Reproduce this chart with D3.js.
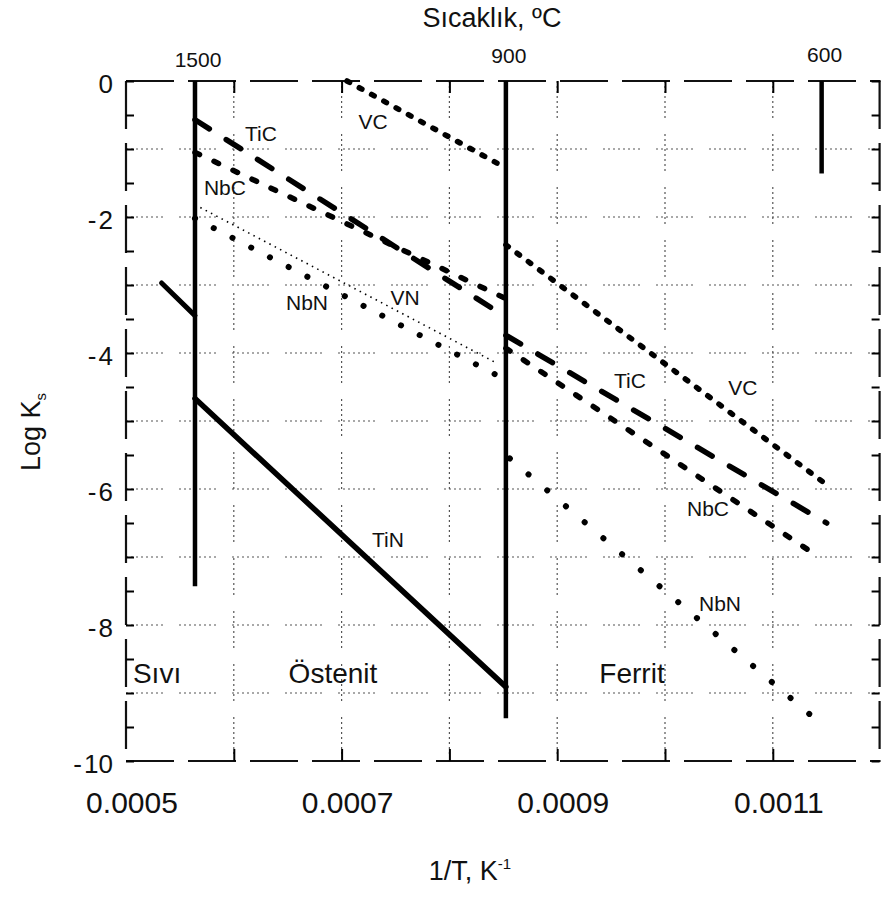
<!DOCTYPE html>
<html>
<head>
<meta charset="utf-8">
<script src="https://cdn.jsdelivr.net/npm/d3@7"></script>
<style>
  html, body { margin: 0; padding: 0; background: #fff; }
  svg { display: block; font-family: "Liberation Sans", Arial, sans-serif; }
</style>
</head>
<body>
<svg id="chart" width="882" height="899"></svg>
<script>
// ---------------- DATA ----------------
const xTicks = [0.0005, 0.0007, 0.0009, 0.0011];
const xGrid = [0.0006, 0.0007, 0.0008, 0.0009, 0.0010, 0.0011];
const yTicks = [0, -2, -4, -6, -8, -10];
const yGrid = [-1, -2, -3, -4, -5, -6, -7, -8, -9];

// temperature boundaries (1/T) and labels on top axis
const tempLabels = ["1500", "900", "600"];
const tempInvT = [0.000564, 0.0008524, 0.0011453];
const tempLineBottom = [-7.43, -9.37, -1.36];

// solubility products log Ks vs 1/T
const tinLiquid    = [[0.000533, -2.97], [0.000564, -3.45]];
const tinAustenite = [[0.000564, -4.67], [0.0008524, -8.91]];
const ticAustenite = [[0.000564, -0.57], [0.0008524, -3.47]];
const ticFerrite   = [[0.0008524, -3.74], [0.00115, -6.50]];
const nbcAustenite = [[0.000564, -1.05], [0.0008524, -3.20]];
const nbcFerrite   = [[0.0008524, -3.93], [0.001137, -6.94]];
const vcAustenite  = [[0.000705, 0.0], [0.0008524, -1.28]];
const vcFerrite    = [[0.0008524, -2.41], [0.001146, -5.89]];
const nbnAustenite = [[0.000564, -2.02], [0.000842, -4.31]];
const nbnFerrite   = [[0.000856, -5.55], [0.001134, -9.31]];
const vnAustenite  = [[0.000564, -1.82], [0.000844, -4.15]];

// curve labels [text, 1/T, logKs]
const curveLabels = [
  ["TiC", 0.0006252, -0.78],
  ["NbC", 0.0005918, -1.57],
  ["VC",  0.0007291, -0.60],
  ["NbN", 0.0006679, -3.26],
  ["VN",  0.0007588, -3.18],
  ["TiC", 0.0009675, -4.40],
  ["VC",  0.0010723, -4.51],
  ["NbC", 0.0010399, -6.29],
  ["NbN", 0.0010510, -7.68],
  ["TiN", 0.000743,  -6.75]
];
const phaseLabels = [
  ["Sıvı",    0.0005288, -8.71],
  ["Östenit", 0.000692,  -8.71],
  ["Ferrit",  0.0009694, -8.71]
];

// ---------------- DRAW ----------------
const svg = d3.select("#chart");
const x = d3.scaleLinear().domain([0.0005, 0.0012]).range([126, 880.6]);
const y = d3.scaleLinear().domain([0, -10]).range([81, 761]);
const line = d3.line().x(d => x(d[0])).y(d => y(d[1]));

// gridlines (dotted, broken)
const gridDash = "2,3,2,3,2,3,2,3,2,3,2,3,2,3,2,16";
svg.append("g").selectAll("line").data(xGrid).join("line")
  .attr("x1", d => x(d)).attr("x2", d => x(d))
  .attr("y1", y(0)).attr("y2", y(-10))
  .attr("stroke", "#555").attr("stroke-width", 1.2)
  .attr("stroke-dasharray", gridDash);
svg.append("g").selectAll("line").data(yGrid).join("line")
  .attr("x1", x(0.0005)).attr("x2", x(0.0012))
  .attr("y1", d => y(d)).attr("y2", d => y(d))
  .attr("stroke", "#555").attr("stroke-width", 1.2)
  .attr("stroke-dasharray", gridDash);

// frame (broken, scanned look)
const frame = svg.append("g").attr("fill", "none").attr("stroke", "#111")
  .attr("stroke-width", 2.2).attr("stroke-dasharray", "48,14");
frame.append("line").attr("x1", x(0.0005)).attr("x2", x(0.0012)).attr("y1", y(0)).attr("y2", y(0));
frame.append("line").attr("x1", x(0.0005)).attr("x2", x(0.0012)).attr("y1", y(-10)).attr("y2", y(-10));
frame.append("line").attr("x1", x(0.0005)).attr("x2", x(0.0005)).attr("y1", y(0)).attr("y2", y(-10));
frame.append("line").attr("x1", x(0.0012) - 1).attr("x2", x(0.0012) - 1).attr("y1", y(0)).attr("y2", y(-10));

// axes with inner ticks
const yMinor = d3.range(0, -10.01, -0.5);
const axL = d3.axisRight(y).tickValues(yMinor).tickSize(8).tickFormat("");
const axR = d3.axisLeft(y).tickValues(yMinor).tickSize(8).tickFormat("");
svg.append("g").attr("transform", `translate(${x(0.0005)},0)`).call(axL)
  .call(g => g.select(".domain").remove()).selectAll("line").attr("stroke-width", 2);
svg.append("g").attr("transform", `translate(${x(0.0012) - 1},0)`).call(axR)
  .call(g => g.select(".domain").remove()).selectAll("line").attr("stroke-width", 2);
const axB = d3.axisTop(x).tickValues(xGrid).tickSize(12).tickFormat("");
const axT = d3.axisBottom(x).tickValues(xGrid).tickSize(12).tickFormat("");
svg.append("g").attr("transform", `translate(0,${y(-10)})`).call(axB)
  .call(g => g.select(".domain").remove()).selectAll("line").attr("stroke-width", 2);
svg.append("g").attr("transform", `translate(0,${y(0)})`).call(axT)
  .call(g => g.select(".domain").remove()).selectAll("line").attr("stroke-width", 2);

// tick labels
svg.append("g").selectAll("text").data(yTicks).join("text")
  .attr("x", 113).attr("y", d => y(d) + 3).attr("dy", "0.35em")
  .attr("text-anchor", "end").attr("font-size", 26).attr("fill", "#111")
  .text(d => d === 0 ? "0" : "-\u200A" + Math.abs(d));
svg.append("g").selectAll("text").data(xTicks).join("text")
  .attr("x", d => x(d) + 6).attr("y", 813)
  .attr("text-anchor", "middle").attr("font-size", 30).attr("fill", "#111")
  .text(d => d3.format(".4f")(d));
svg.append("g").selectAll("text").data(tempLabels).join("text")
  .attr("x", (d, i) => x(tempInvT[i]) + 3).attr("y", (d, i) => [67, 63, 62][i])
  .attr("text-anchor", "middle").attr("font-size", 21).attr("fill", "#111")
  .text(d => d);

// axis titles
svg.append("text").attr("x", 492).attr("y", 27).attr("text-anchor", "middle")
  .attr("font-size", 27).attr("fill", "#111").text("Sıcaklık, ºC");
const xt = svg.append("text").attr("x", 470).attr("y", 880).attr("text-anchor", "middle")
  .attr("font-size", 27).attr("fill", "#111");
xt.append("tspan").text("1/T, K");
xt.append("tspan").attr("dy", -11).attr("font-size", 15).text("-1");
const yt = svg.append("text").attr("transform", "translate(40,432) rotate(-90)")
  .attr("text-anchor", "middle").attr("font-size", 27).attr("fill", "#111");
yt.append("tspan").text("Log K");
yt.append("tspan").attr("dy", 6).attr("font-size", 15).text("s");

// temperature boundary lines
svg.append("g").selectAll("line").data(tempInvT).join("line")
  .attr("x1", d => x(d)).attr("x2", d => x(d))
  .attr("y1", y(0)).attr("y2", (d, i) => y(tempLineBottom[i]))
  .attr("stroke", "#000").attr("stroke-width", 4.5);

// curves
function curve(data, width, dash, cap) {
  svg.append("path").datum(data).attr("d", line)
    .attr("fill", "none").attr("stroke", "#000")
    .attr("stroke-width", width)
    .attr("stroke-linecap", cap || "round")
    .attr("stroke-dasharray", dash || null);
}
curve(tinLiquid, 5, null);
curve(tinAustenite, 5.5, null);
curve(ticAustenite, 5.5, "17,20");
curve(ticFerrite, 5.5, "17,20");
curve(nbcAustenite, 5.5, "5,16");
curve(nbcFerrite, 5.5, "5,16");
curve(vcAustenite, 5.5, "3,11");
curve(vcFerrite, 5.5, "3,11");
curve(nbnAustenite, 6, "0.1,21");
curve(nbnFerrite, 6, "0.1,24.5");
curve(vnAustenite, 1.6, "1.5,4.5", "butt");

// labels
svg.append("g").selectAll("text").data(curveLabels).join("text")
  .attr("x", d => x(d[1])).attr("y", d => y(d[2])).attr("dy", "0.35em")
  .attr("text-anchor", "middle").attr("font-size", 21).attr("fill", "#111")
  .text(d => d[0]);
svg.append("g").selectAll("text").data(phaseLabels).join("text")
  .attr("x", d => x(d[1])).attr("y", d => y(d[2])).attr("dy", "0.35em")
  .attr("text-anchor", "middle").attr("font-size", 28).attr("fill", "#111")
  .text(d => d[0]);
</script>
</body>
</html>
